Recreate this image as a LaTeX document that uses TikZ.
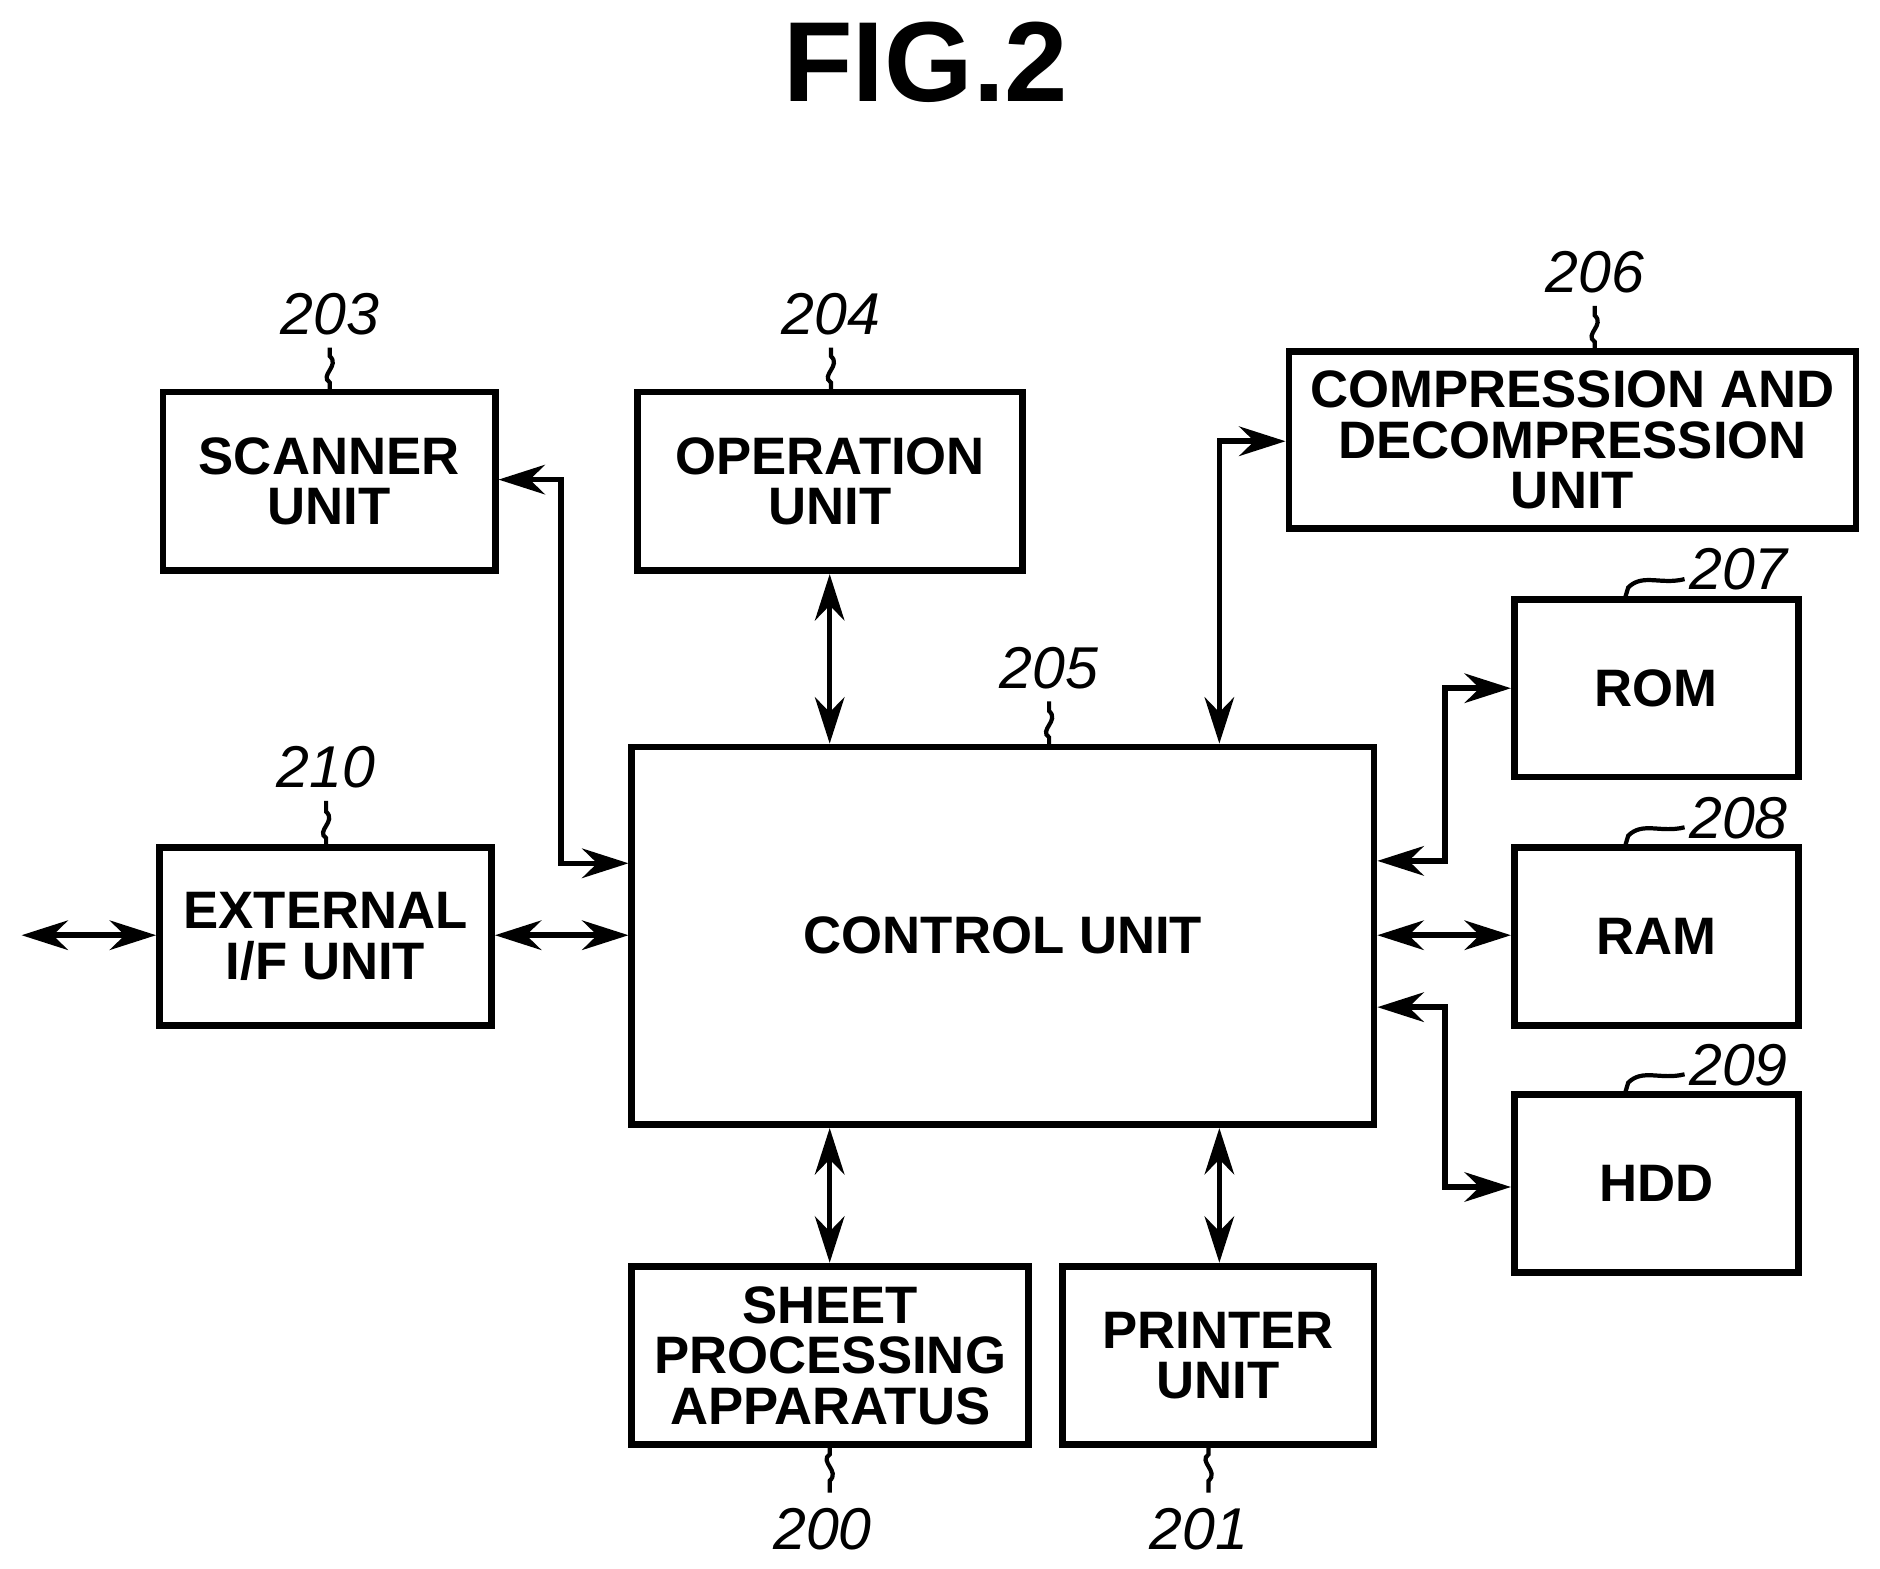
\documentclass[tikz,border=0pt]{standalone}
\usepackage{fontspec}
\setmainfont{Liberation Sans}
\usetikzlibrary{arrows.meta}
\begin{document}
\begin{tikzpicture}[x=0.01cm,y=-0.01cm,
 box/.style={draw,line width=1.6pt,inner sep=0pt,font=\fontsize{12.5}{12}\selectfont\bfseries,align=center},
 con/.style={line width=1.3pt,{Stealth[length=11pt,width=7pt]}-{Stealth[length=11pt,width=7pt]}},
 lab/.style={font=\fontsize{14}{14}\selectfont\itshape},
 ld/.style={line width=1pt}]
\useasboundingbox (0,0) rectangle (1568,1308);
\node[font=\fontsize{27}{27}\selectfont\bfseries] (fig) at (772,52) {FIG.2};
\newcommand\bx[6]{\node[box,minimum width={(#4-#2)*0.01cm},minimum height={(#5-#3)*0.01cm}] (#1) at ({(#2+#4)/2},{(#3+#5)/2}) {#6};}
\bx{sc}{136}{327}{413}{476}{SCANNER\\UNIT}
\bx{op}{532}{327}{853}{476}{OPERATION\\UNIT}
\bx{cm}{1075}{293}{1548}{441}{COMPRESSION AND\\DECOMPRESSION\\UNIT}
\bx{rom}{1263}{500}{1500}{648}{ROM}
\bx{ram}{1263}{707}{1500}{855}{RAM}
\bx{hdd}{1263}{913}{1500}{1061}{HDD}
\bx{ctl}{527}{623}{1146}{938}{CONTROL UNIT}
\bx{ext}{133}{707}{410}{855}{EXTERNAL\\I/F UNIT}
\bx{sh}{527}{1056}{858}{1205}{SHEET\\PROCESSING\\APPARATUS}
\bx{pr}{886}{1056}{1146}{1205}{PRINTER\\UNIT}
\coordinate (out) at (18,780);
\draw[con] (sc.east |- 0,400) -| (468,720) -- (ctl.west |- 0,720);
\draw[con] (op.south -| 692,0) -- (ctl.north -| 692,0);
\draw[con] (ctl.north -| 1017,0) |- (cm.west |- 0,368);
\draw[con] (ctl.east |- 0,718) -| (1205,574) -- (rom.west |- 0,574);
\draw[con] (ctl.east |- 0,780) -- (ram.west |- 0,780);
\draw[con] (ctl.east |- 0,840) -| (1205,990) -- (hdd.west |- 0,990);
\draw[con] (ext.east |- 0,780) -- (ctl.west |- 0,780);
\draw[con] (out) -- (ext.west |- 0,780);
\draw[con] (ctl.south -| 692,0) -- (sh.north -| 692,0);
\draw[con] (ctl.south -| 1017,0) -- (pr.north -| 1017,0);
% labels
\newcommand\up[3]{\draw[ld] (#1,#2) -- (#1,#2-8) .. controls (#1-9,#2-14) and (#1+9,#2-22) .. (#1,#2-30) -- (#1,#3);}
\node[lab] (l203) at (275,262) {203}; \up{275}{327}{290}
\node[lab] (l204) at (693,262) {204}; \up{693}{327}{290}
\node[lab] (l206) at (1330,227) {206}; \up{1330}{293}{255}
\node[lab] (l205) at (875,557) {205}; \up{875}{623}{585}
\node[lab] (l210) at (272,640) {210}; \up{272}{707}{668}
\node[lab] (l200) at (686,1275) {200};
\draw[ld] (692,1205) -- (692,1213) .. controls (683,1219) and (701,1227) .. (692,1235) -- (692,1245);
\node[lab] (l201) at (1000,1275) {201};
\draw[ld] (1008,1205) -- (1008,1213) .. controls (999,1219) and (1017,1227) .. (1008,1235) -- (1008,1245);
\newcommand\rl[2]{\node[lab] at (1450,#2-25) {#1}; \draw[ld] (1355,#2) -- (1358,#2-10) .. controls (1370,#2-22) and (1385,#2-12) .. (1405,#2-17);}
\rl{207}{500}\rl{208}{707}\rl{209}{913}
\end{tikzpicture}
\end{document}
